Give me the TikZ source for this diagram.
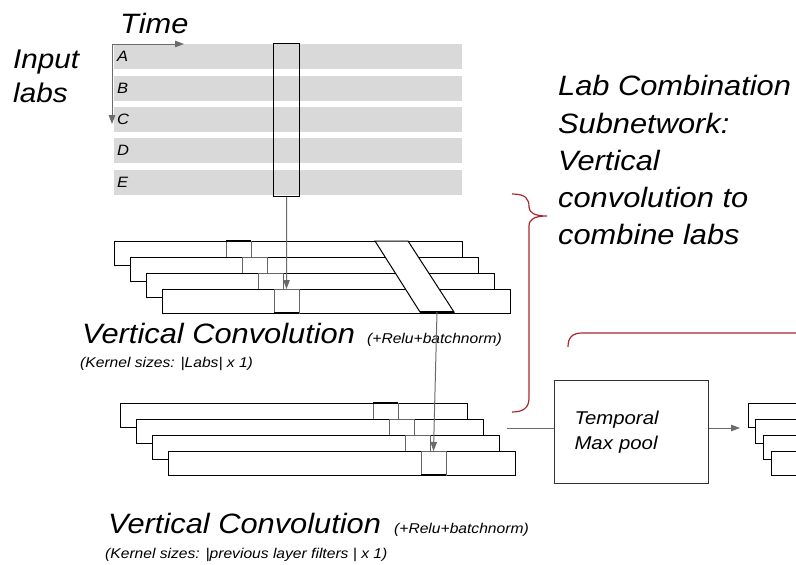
\documentclass[tikz,border=0pt]{standalone}
\usepackage{fontspec}
\setmainfont{Liberation Sans}[FakeStretch=1.1]
\usetikzlibrary{arrows.meta}
\definecolor{barg}{HTML}{D9D9D9}
\definecolor{arrg}{HTML}{6B6B6B}
\definecolor{bracered}{HTML}{A8272E}
\begin{document}
\begin{tikzpicture}[x=1pt,y=-1pt,
  bar/.style={fill=barg, draw=none, inner sep=0pt, outer sep=0pt, anchor=north west, minimum width=348pt, minimum height=25pt},
  lbl/.style={font=\fontsize{15}{18}\selectfont\itshape, anchor=west, inner sep=0pt},
  big/.style={font=\fontsize{28}{37.25}\selectfont\itshape, inner sep=0pt},
  small/.style={font=\fontsize{14.2}{16}\selectfont\itshape, inner sep=0pt, anchor=base west},
  layer/.style={draw=black, fill=white, line width=1pt, inner sep=0pt, outer sep=0pt, anchor=north west, minimum height=24pt},
  kern/.style={draw=black!60, line width=0.8pt, inner sep=0pt, outer sep=0pt, anchor=north west, minimum width=25pt, minimum height=24pt},
  garrow/.style={draw=arrg, line width=1pt, -{Triangle[length=9pt,width=6.5pt]}},
  gline/.style={draw=arrg, line width=1pt},
  bracepath/.style={draw=bracered, line width=1.2pt}
]
\useasboundingbox (0,0) rectangle (796,565);

% input labs
\foreach \l/\y in {A/44,B/76,C/107,D/138,E/170}{
  \node[bar] (bar\l) at (114,\y) {};
  \node[lbl] (t\l) at ([xshift=3pt]bar\l.west) {\l};
}
\coordinate (orig) at (112,44);
\coordinate (tx) at (184,44);
\coordinate (ty) at (112,124);
\draw[garrow] (orig) -- (tx);
\draw[garrow] (orig) -- (ty);
\node[big, anchor=base west] (time) at (120,33) {Time};
\node[big, anchor=north west, align=left, font=\fontsize{27}{34}\selectfont\itshape] (inlabs) at (13,50) {Input\\labs};

% window
\node[draw=black, line width=1.1pt, inner sep=0pt, anchor=north west, minimum width=26pt, minimum height=153pt] (win) at (273,43) {};

% layer 1
\foreach \i in {0,...,3}{
  \node[layer, minimum width=348pt] (La\i) at (114+16*\i,241+16*\i) {};
  \node[kern] (Ka\i) at (226+16*\i,241+16*\i) {};
}
\draw[line width=1.7pt] (Ka0.north west) -- (Ka0.north east);
\draw[line width=1.7pt] (Ka3.south west) -- (Ka3.south east);
\draw[draw=black, fill=white, line width=1pt] (375,241) -- (408,241) -- (454,312) -- (420,312) -- cycle;
\draw[line width=1.8pt] (420,312) -- (454,312);
\coordinate (bandout) at (437,312);
\draw[garrow] (win.south) -- (Ka3.north);

\node[big, anchor=base west] (vc1) at (82,343) {Vertical Convolution};
\node[small] (rb1) at (367,343) {(+Relu+batchnorm)};
\node[small] (ks1) at (80,367) {(Kernel sizes: |Labs| x 1)};

% layer 2
\foreach \i in {0,...,3}{
  \node[layer, minimum width=347pt] (Lb\i) at (120+16*\i,403+16*\i) {};
  \node[kern] (Kb\i) at (373+16*\i,403+16*\i) {};
}
\draw[line width=1.7pt] (Kb0.north west) -- (Kb0.north east);
\draw[line width=1.7pt] (Kb3.south west) -- (Kb3.south east);
\draw[garrow] (bandout) -- (Kb3.north);

\node[big, anchor=base west] (vc2) at (108,533) {Vertical Convolution};
\node[small] (rb2) at (394,533) {(+Relu+batchnorm)};
\node[small] (ks2) at (105,558) {(Kernel sizes: |previous layer filters | x 1)};

% temporal max pool
\node[draw=black!80, line width=1pt, align=left, text width=114pt, inner xsep=20pt, inner ysep=0pt, minimum height=103pt, anchor=north west, font=\fontsize{18.5}{25}\selectfont\itshape] (pool) at (554,380) {Temporal\\Max pool};
\coordinate (lin) at (507,428);
\coordinate (rin) at (740,428);
\draw[gline] (lin) -- (lin -| pool.west);
\draw[garrow] (lin -| pool.east) -- (rin);

% right stack
\foreach \i in {0,...,3}{
  \node[layer, minimum width=120pt] (Lc\i) at (748+7.7*\i,403+16*\i) {};
}

% braces
\draw[bracepath] (512,194) .. controls (526,194) and (529,199) .. (529,207)
  .. controls (529,213) and (535,216) .. (547,216)
  .. controls (535,216) and (529,219) .. (529,226)
  -- (529,398) .. controls (529,408) and (523,412) .. (512,412);
\draw[bracepath] (568,347) .. controls (568,338) and (572,333) .. (582,333) -- (800,333);

% right text
\node[big, anchor=north west, align=left] (lcs) at (558,75.5) {Lab Combination\\Subnetwork:\\Vertical\\convolution to\\combine labs};
\end{tikzpicture}
\end{document}
